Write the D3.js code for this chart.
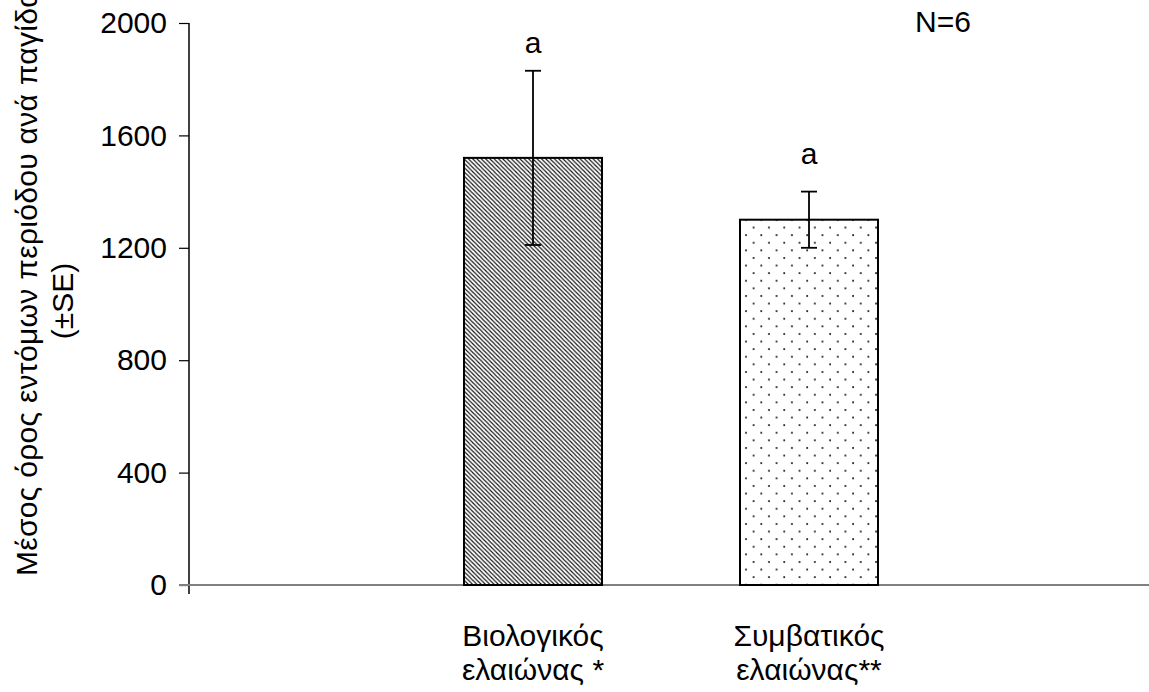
<!DOCTYPE html>
<html>
<head>
<meta charset="utf-8">
<script src="https://cdn.jsdelivr.net/npm/d3@7/dist/d3.min.js"></script>
<style>
  html, body { margin: 0; padding: 0; background: #fff; }
  svg { display: block; font-family: "Liberation Sans", Arial, sans-serif; }
</style>
</head>
<body>
<svg id="chart" width="1149" height="692"></svg>
<script>
// ---- data ----
const categories = [["Βιολογικός", "ελαιώνας *"], ["Συμβατικός", "ελαιώνας**"]];
const means = [1520, 1300];
const errors = [310, 100];
const letters = ["a", "a"];
const letterLevels = [1895, 1500];
const patterns = ["hatch", "dots"];
const yTicks = [0, 400, 800, 1200, 1600, 2000];
const yTitle = ["Μέσος όρος εντόμων περιόδου ανά παγίδα", "(±SE)"];
const note = "N=6";

const svg = d3.select("#chart");
const fs = 30;

const y = d3.scaleLinear().domain([0, 2000]).range([585, 23]);
const x = d3.scaleBand().domain(d3.range(categories.length))
  .range([395, 947]).paddingInner(0.5).paddingOuter(0.25);
const axisX = 189;

// patterns
const defs = svg.append("defs");
const ph = defs.append("pattern").attr("id", "hatch")
  .attr("patternUnits", "userSpaceOnUse").attr("width", 4.3).attr("height", 4.3);
ph.append("rect").attr("width", 4.3).attr("height", 4.3).attr("fill", "#fff");
ph.append("path").attr("d", "M-1,-1 L5.3,5.3 M-1,3.3 L1,5.3 M3.3,-1 L5.3,1")
  .attr("stroke", "#111").attr("stroke-width", 1.15);

const pd = defs.append("pattern").attr("id", "dots")
  .attr("patternUnits", "userSpaceOnUse").attr("x", 744).attr("y", 218)
  .attr("width", 15.3).attr("height", 15.2);
pd.append("rect").attr("width", 15.3).attr("height", 15.2).attr("fill", "#fff");
pd.append("circle").attr("cx", 2).attr("cy", 2).attr("r", 1).attr("fill", "#111");
pd.append("circle").attr("cx", 9.65).attr("cy", 9.6).attr("r", 1).attr("fill", "#111");

// y axis
const yAxis = d3.axisLeft(y).tickValues(yTicks).tickSize(10).tickPadding(12).tickFormat(d3.format("d"));
const gy = svg.append("g").attr("transform", `translate(${axisX},0)`).call(yAxis);
gy.select(".domain").remove();
gy.selectAll(".tick line").attr("stroke", "#000").attr("stroke-width", 1.2);
gy.selectAll(".tick text").attr("font-size", fs).attr("fill", "#000")
  .attr("font-family", "Liberation Sans, Arial, sans-serif");
svg.append("line").attr("x1", axisX).attr("x2", axisX)
  .attr("y1", y(2000)).attr("y2", y(0) + 9).attr("stroke", "#000").attr("stroke-width", 1.5);

// x axis line (gray)
svg.append("line").attr("x1", axisX - 10).attr("x2", 1149)
  .attr("y1", y(0)).attr("y2", y(0)).attr("stroke", "#808080").attr("stroke-width", 2);

// bars
svg.selectAll("rect.bar").data(means).join("rect").attr("class", "bar")
  .attr("x", (d, i) => x(i)).attr("width", x.bandwidth())
  .attr("y", d => y(d)).attr("height", d => y(0) - y(d))
  .attr("fill", (d, i) => `url(#${patterns[i]})`)
  .attr("stroke", "#000").attr("stroke-width", 2);

// error bars
const cx = i => x(i) + x.bandwidth() / 2;
const eg = svg.append("g").attr("stroke", "#000");
means.forEach((m, i) => {
  const top = y(m + errors[i]), bot = y(m - errors[i]);
  eg.append("line").attr("x1", cx(i)).attr("x2", cx(i)).attr("y1", top).attr("y2", bot).attr("stroke-width", 1.8);
  eg.append("line").attr("x1", cx(i) - 8).attr("x2", cx(i) + 8).attr("y1", top).attr("y2", top).attr("stroke-width", 1.8);
  eg.append("line").attr("x1", cx(i) - 8).attr("x2", cx(i) + 8).attr("y1", bot).attr("y2", bot).attr("stroke-width", 1.8);
});

// letters
svg.selectAll("text.letter").data(letters).join("text").attr("class", "letter")
  .attr("x", (d, i) => cx(i)).attr("y", (d, i) => y(letterLevels[i]))
  .attr("text-anchor", "middle").attr("font-size", fs).text(d => d);

// category labels
categories.forEach((lines, i) => {
  const t = svg.append("text").attr("text-anchor", "middle").attr("font-size", fs);
  lines.forEach((l, j) => t.append("tspan").attr("x", cx(i)).attr("y", 646 + j * 34).text(l));
});

// y title
svg.append("text").attr("transform", "translate(37,576) rotate(-90)")
  .attr("text-anchor", "start").attr("font-size", fs).attr("letter-spacing", 0.3).text(yTitle[0]);
svg.append("text").attr("transform", "translate(73,301) rotate(-90)")
  .attr("text-anchor", "middle").attr("font-size", fs).text(yTitle[1]);

// N note
svg.append("text").attr("x", 915).attr("y", 32).attr("font-size", fs).text(note);
</script>
</body>
</html>
